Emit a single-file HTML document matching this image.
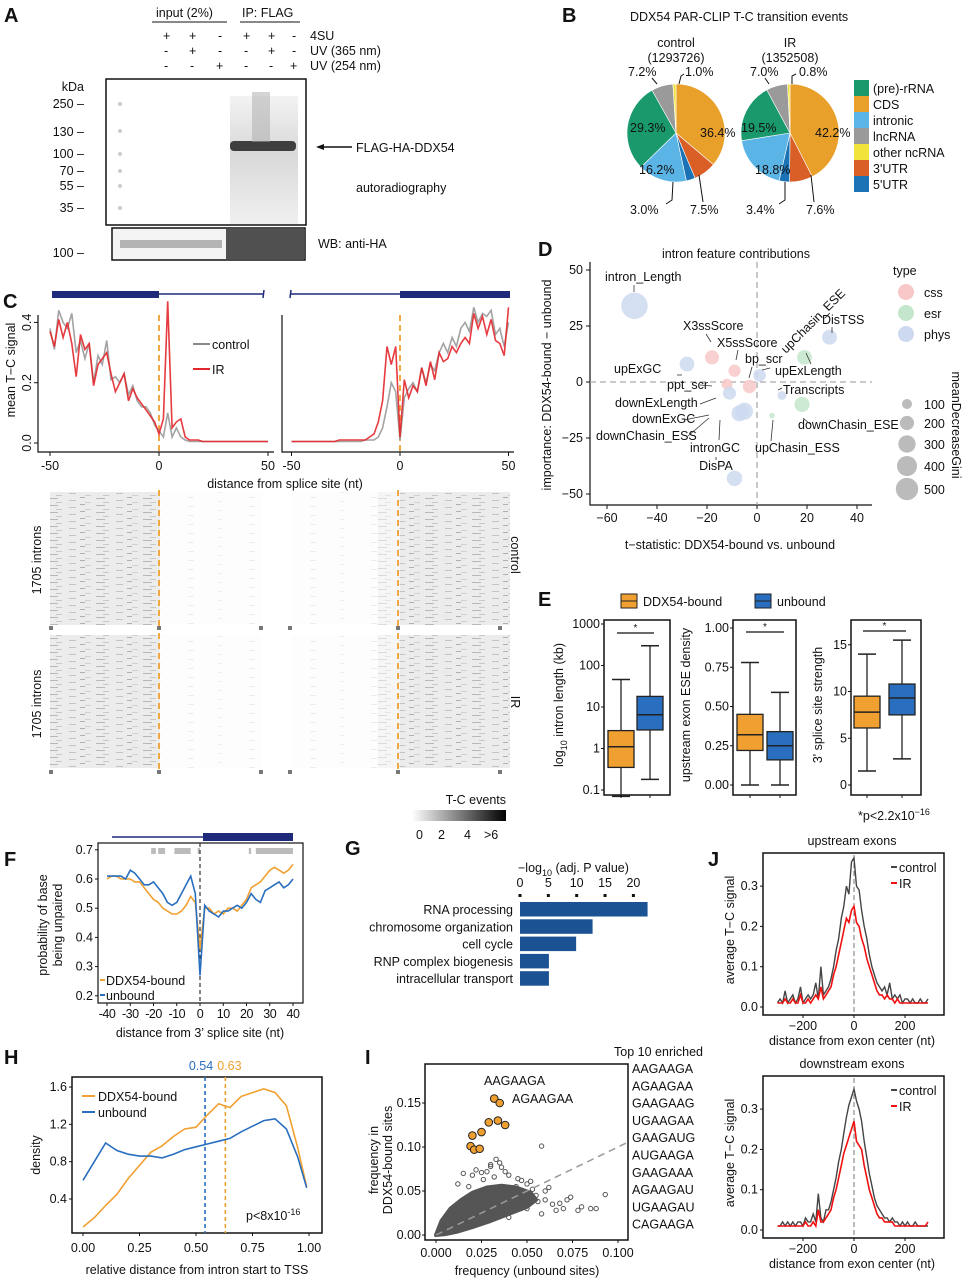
<!DOCTYPE html>
<html><head><meta charset="utf-8">
<style>
html,body{margin:0;padding:0;background:#fff;}
svg{display:block;font-family:"Liberation Sans",sans-serif;}
text{fill:#111;}
.pl{font-size:20px;font-weight:bold;}
.t{font-size:12.5px;}
.s{font-size:11.5px;}
</style></head>
<body>
<svg id="fig" width="969" height="1280" viewBox="0 0 969 1280" xmlns="http://www.w3.org/2000/svg">
<defs>
<linearGradient id="tcgrad" x1="0" x2="1" y1="0" y2="0"><stop offset="0" stop-color="#fff"/><stop offset="1" stop-color="#000"/></linearGradient>
<pattern id="streak" width="47" height="7" patternUnits="userSpaceOnUse">
<rect width="47" height="7" fill="#ececec"/><rect x="2" y="1" width="9" height="1" fill="#b8b8b8"/><rect x="22" y="3" width="7" height="1" fill="#c4c4c4"/><rect x="9" y="5" width="6" height="1" fill="#c8c8c8"/><rect x="33" y="0" width="5" height="1" fill="#b0b0b0"/><rect x="38" y="5" width="6" height="1" fill="#d0d0d0"/>
</pattern>
<pattern id="streakLight" width="61" height="9" patternUnits="userSpaceOnUse">
<rect width="61" height="9" fill="#fdfdfd"/><rect x="5" y="2" width="6" height="1" fill="#ececec"/><rect x="35" y="6" width="4" height="1" fill="#eeeeee"/>
</pattern>
<linearGradient id="laneGrad" x1="0" x2="0" y1="0" y2="1"><stop offset="0" stop-color="#f0f0f0"/><stop offset="0.45" stop-color="#cfcfcf"/><stop offset="1" stop-color="#ececec"/></linearGradient>
</defs>

<!-- Panel A -->
<g>
<text class="pl" x="4" y="22">A</text>
<text class="t" x="156" y="17">input (2%)</text>
<line x1="152" y1="22" x2="227" y2="22" stroke="#111"/>
<text class="t" x="242" y="17">IP: FLAG</text>
<line x1="240" y1="22" x2="300" y2="22" stroke="#111"/>
<g class="t">
<text x="163" y="40">+</text><text x="189" y="40">+</text><text x="218" y="40">-</text><text x="243" y="40">+</text><text x="268" y="40">+</text><text x="292" y="40">-</text><text x="310" y="40">4SU</text>
<text x="164" y="55">-</text><text x="189" y="55">+</text><text x="218" y="55">-</text><text x="244" y="55">-</text><text x="268" y="55">+</text><text x="292" y="55">-</text><text x="310" y="55">UV (365 nm)</text>
<text x="164" y="70">-</text><text x="190" y="70">-</text><text x="216" y="70">+</text><text x="244" y="70">-</text><text x="269" y="70">-</text><text x="290" y="70">+</text><text x="310" y="70">UV (254 nm)</text>
</g>
<rect x="106" y="79" width="200" height="146" fill="#fff" stroke="#111" stroke-width="1.5"/>
<rect x="230" y="96" width="68" height="128" fill="url(#laneGrad)" opacity="0.8"/>
<rect x="230" y="141" width="66" height="10" fill="#222" opacity="0.85" rx="4"/>
<rect x="252" y="92" width="18" height="50" fill="#aaa" opacity="0.5"/>
<g fill="#ccc"><circle cx="120" cy="104" r="2"/><circle cx="120" cy="131" r="2"/><circle cx="120" cy="154" r="2"/><circle cx="120" cy="171" r="2"/><circle cx="120" cy="186" r="2"/><circle cx="120" cy="208" r="2"/></g>
<g class="t" text-anchor="end">
<text x="84" y="91">kDa</text><text x="84" y="108">250 –</text><text x="84" y="136">130 –</text><text x="84" y="158">100 –</text><text x="84" y="175">70 –</text><text x="84" y="190">55 –</text><text x="84" y="212">35 –</text><text x="84" y="257">100 –</text>
</g>
<line x1="352" y1="147" x2="318" y2="147" stroke="#111" stroke-width="1.5"/>
<polygon points="316,147 324,144 324,150" fill="#111"/>
<text class="t" x="356" y="152">FLAG-HA-DDX54</text>
<text class="t" x="356" y="192">autoradiography</text>
<rect x="112" y="228" width="193" height="32" fill="#f4f4f4" stroke="#111" stroke-width="1.5"/>
<rect x="120" y="240" width="102" height="8" fill="#888" opacity="0.6"/>
<rect x="226" y="229" width="78" height="30" fill="#333" opacity="0.85"/>
<text class="t" x="318" y="248">WB: anti-HA</text>
</g>

<!-- Panel B -->
<g>
<text class="pl" x="562" y="22">B</text>
<text class="t" x="630" y="21">DDX54 PAR-CLIP T-C transition events</text>
<text class="t" x="676" y="47" text-anchor="middle">control</text>
<text class="t" x="676" y="62" text-anchor="middle">(1293726)</text>
<text class="t" x="790" y="47" text-anchor="middle">IR</text>
<text class="t" x="790" y="62" text-anchor="middle">(1352508)</text>
<g id="pies"></g>
<g class="t">
<text x="700" y="137">36.4%</text><text x="630" y="132">29.3%</text><text x="639" y="174">16.2%</text>
<text x="815" y="137">42.2%</text><text x="741" y="132">19.5%</text><text x="755" y="174">18.8%</text>
<text x="628" y="76">7.2%</text><text x="685" y="76">1.0%</text><text x="630" y="214">3.0%</text><text x="690" y="214">7.5%</text>
<text x="750" y="76">7.0%</text><text x="799" y="76">0.8%</text><text x="746" y="214">3.4%</text><text x="806" y="214">7.6%</text>
</g>
<g stroke="#111" fill="none">
<path d="M657,84 L652,78"/><path d="M679,84 L681,76 L684,74"/><path d="M673,182 L672,200 L666,204"/><path d="M699,175 L703,202"/>
<path d="M769,84 L765,78"/><path d="M792,84 L792,76 L796,74"/><path d="M785,182 L785,200 L779,204"/><path d="M811,175 L814,202"/>
</g>
<g id="pieLegend"></g>
</g>

<!-- Panel C -->
<g>
<text class="pl" x="3" y="308">C</text>
<rect x="52" y="291" width="107" height="7" fill="#1f2a7a"/>
<line x1="159" y1="294" x2="264" y2="294" stroke="#1f2a7a" stroke-width="1.5"/>
<line x1="264" y1="290" x2="263" y2="298" stroke="#1f2a7a" stroke-width="1.5"/>
<line x1="291" y1="294" x2="400" y2="294" stroke="#1f2a7a" stroke-width="1.5"/>
<line x1="291" y1="290" x2="290" y2="298" stroke="#1f2a7a" stroke-width="1.5"/>
<rect x="400" y="291" width="110" height="7" fill="#1f2a7a"/>
<text class="t" transform="translate(15,370) rotate(-90)" text-anchor="middle">mean T−C signal</text>
<text class="t" x="285" y="488" text-anchor="middle">distance from splice site (nt)</text>
<g id="cPlot"></g>
<line x1="193" y1="344" x2="210" y2="344" stroke="#888" stroke-width="2"/>
<text class="t" x="212" y="349">control</text>
<line x1="193" y1="369" x2="210" y2="369" stroke="#e3262b" stroke-width="2"/>
<text class="t" x="212" y="374">IR</text>
<g>
<rect x="50" y="492" width="110" height="133" fill="url(#streak)"/>
<rect x="160" y="492" width="102" height="133" fill="url(#streakLight)"/>
<rect x="292" y="492" width="90" height="133" fill="url(#streakLight)"/>
<rect x="378" y="492" width="22" height="133" fill="url(#streak)" opacity="0.5"/>
<rect x="400" y="492" width="110" height="133" fill="url(#streak)"/>
</g>
<g>
<rect x="50" y="635" width="110" height="133" fill="url(#streak)"/>
<rect x="160" y="635" width="102" height="133" fill="url(#streakLight)"/>
<rect x="292" y="635" width="90" height="133" fill="url(#streakLight)"/>
<rect x="378" y="635" width="22" height="133" fill="url(#streak)" opacity="0.5"/>
<rect x="400" y="635" width="110" height="133" fill="url(#streak)"/>
</g>
<g stroke="#f0a030" stroke-width="1.8" stroke-dasharray="6,4">
<line x1="159" y1="490" x2="159" y2="627"/><line x1="398" y1="490" x2="398" y2="627"/>
<line x1="159" y1="633" x2="159" y2="770"/><line x1="398" y1="633" x2="398" y2="770"/>
</g>
<g fill="#777">
<rect x="49" y="626" width="4" height="4"/><rect x="157" y="626" width="4" height="4"/><rect x="259" y="626" width="4" height="4"/><rect x="288" y="626" width="4" height="4"/><rect x="396" y="626" width="4" height="4"/><rect x="498" y="626" width="4" height="4"/>
<rect x="49" y="770" width="4" height="4"/><rect x="157" y="770" width="4" height="4"/><rect x="259" y="770" width="4" height="4"/><rect x="288" y="770" width="4" height="4"/><rect x="396" y="770" width="4" height="4"/><rect x="498" y="770" width="4" height="4"/>
</g>
<text class="t" transform="translate(41,560) rotate(-90)" text-anchor="middle">1705 introns</text>
<text class="t" transform="translate(41,704) rotate(-90)" text-anchor="middle">1705 introns</text>
<text class="t" transform="translate(511,555) rotate(90)" text-anchor="middle">control</text>
<text class="t" transform="translate(511,702) rotate(90)" text-anchor="middle">IR</text>
<text class="t" x="506" y="804" text-anchor="end">T-C events</text>
<rect x="412" y="810" width="94" height="11" fill="url(#tcgrad)"/>
<g class="t"><text x="416" y="839">0</text><text x="438" y="839">2</text><text x="464" y="839">4</text><text x="484" y="839">&gt;6</text></g>
</g>

<!-- Panel D -->
<g>
<text class="pl" x="538" y="256">D</text>
<text class="t" x="736" y="258" text-anchor="middle">intron feature contributions</text>
<text class="t" transform="translate(551,385) rotate(-90)" text-anchor="middle">importance: DDX54-bound − unbound</text>
<text class="t" x="730" y="549" text-anchor="middle">t−statistic: DDX54-bound vs. unbound</text>
<g id="dPlot"></g>
<g class="t">
<text x="605" y="281">intron_Length</text><text x="683" y="330">X3ssScore</text><text x="717" y="347">X5ssScore</text>
<text x="745" y="363">bp_scr</text><text x="775" y="375">upExLength</text><text x="614" y="373">upExGC</text>
<text x="667" y="389">ppt_scr</text><text x="783" y="394">Transcripts</text><text x="615" y="407">downExLength</text>
<text x="632" y="423">downExGC</text><text x="798" y="429">downChasin_ESE</text><text x="596" y="440">downChasin_ESS</text>
<text x="690" y="452">intronGC</text><text x="755" y="452">upChasin_ESS</text><text x="716" y="470" text-anchor="middle">DisPA</text>
<text x="822" y="324">DisTSS</text>
<text transform="translate(786,354) rotate(-45)">upChasin_ESE</text>
</g>
<g stroke="#333" stroke-width="0.8">
<line x1="634" y1="285" x2="634" y2="292"/><line x1="706" y1="334" x2="711" y2="342"/><line x1="738" y1="350" x2="736" y2="360"/>
<line x1="752" y1="367" x2="749" y2="378"/><line x1="677" y1="375" x2="682" y2="375"/><line x1="700" y1="385" x2="712" y2="386"/>
<line x1="762" y1="370" x2="770" y2="368"/><line x1="778" y1="390" x2="782" y2="388"/><line x1="700" y1="404" x2="716" y2="398"/>
<line x1="684" y1="420" x2="709" y2="415"/><line x1="688" y1="436" x2="709" y2="418"/><line x1="719" y1="440" x2="720" y2="420"/>
<line x1="771" y1="441" x2="773" y2="420"/><line x1="803" y1="418" x2="810" y2="424"/><line x1="832" y1="327" x2="832" y2="333"/>
<line x1="806" y1="353" x2="811" y2="364"/><line x1="716" y1="460" x2="716" y2="457"/>
</g>
<text class="t" x="893" y="275">type</text>
<g>
<circle cx="906" cy="292" r="8" fill="#f8c8c8"/><text class="t" x="924" y="297">css</text>
<circle cx="906" cy="313" r="8" fill="#c4e6cc"/><text class="t" x="924" y="318">esr</text>
<circle cx="906" cy="334" r="8" fill="#cdd9ee"/><text class="t" x="924" y="339">phys</text>
</g>
<g id="giniLegend"></g>
<text class="t" transform="translate(952,425) rotate(90)" text-anchor="middle">meanDecreaseGini</text>
</g>

<!-- Panel E -->
<g>
<text class="pl" x="538" y="606">E</text>
<rect x="621" y="594" width="16" height="14" fill="#f0a030" stroke="#222"/>
<line x1="621" y1="601" x2="637" y2="601" stroke="#222"/>
<text class="t" x="643" y="606">DDX54-bound</text>
<rect x="755" y="594" width="16" height="14" fill="#2a6fbf" stroke="#222"/>
<line x1="755" y1="601" x2="771" y2="601" stroke="#222"/>
<text class="t" x="777" y="606">unbound</text>
<g id="ePlot"></g>
<text class="t" transform="translate(563,705) rotate(-90)" text-anchor="middle">log<tspan font-size="9" dy="4">10</tspan><tspan dy="-4"> intron length (kb)</tspan></text>
<text class="t" transform="translate(690,705) rotate(-90)" text-anchor="middle">upstream exon ESE density</text>
<text class="t" transform="translate(822,705) rotate(-90)" text-anchor="middle">3' splice site strength</text>
<text class="t" x="858" y="820">*p&lt;2.2x10<tspan font-size="9" dy="-5">−16</tspan></text>
</g>

<!-- Panel F -->
<g>
<text class="pl" x="4" y="866">F</text>
<line x1="112" y1="837" x2="203" y2="837" stroke="#1f2a7a" stroke-width="1.5"/>
<rect x="203" y="833" width="90" height="8" fill="#1f2a7a"/>
<text class="t" transform="translate(47,925) rotate(-90)" text-anchor="middle">probability of base</text>
<text class="t" transform="translate(62,925) rotate(-90)" text-anchor="middle">being unpaired</text>
<text class="t" x="200" y="1037" text-anchor="middle">distance from 3’ splice site (nt)</text>
<g id="fPlot"></g>
<line x1="100" y1="980" x2="105" y2="980" stroke="#f0a030" stroke-width="2"/>
<text class="t" x="106" y="985">DDX54-bound</text>
<line x1="100" y1="995" x2="105" y2="995" stroke="#2a6fbf" stroke-width="2"/>
<text class="t" x="106" y="1000">unbound</text>
</g>

<!-- Panel G -->
<g>
<text class="pl" x="345" y="855">G</text>
<text class="t" x="518" y="872">−log<tspan font-size="9" dy="4">10</tspan><tspan dy="-4"> (adj. P value)</tspan></text>
<g id="gPlot"></g>
</g>

<!-- Panel H -->
<g>
<text class="pl" x="4" y="1064">H</text>
<text class="t" transform="translate(40,1155) rotate(-90)" text-anchor="middle">density</text>
<text class="t" x="197" y="1274" text-anchor="middle">relative distance from intron start to TSS</text>
<g id="hPlot"></g>
<line x1="82" y1="1096" x2="95" y2="1096" stroke="#f0a030" stroke-width="2"/>
<text class="t" x="98" y="1101">DDX54-bound</text>
<line x1="82" y1="1112" x2="95" y2="1112" stroke="#2a6fbf" stroke-width="2"/>
<text class="t" x="98" y="1117">unbound</text>
<text class="t" x="246" y="1220">p&lt;8x10<tspan font-size="9" dy="-5">-16</tspan></text>
</g>

<!-- Panel I -->
<g>
<text class="pl" x="365" y="1064">I</text>
<text class="t" transform="translate(378,1160) rotate(-90)" text-anchor="middle">frequency in</text>
<text class="t" transform="translate(392,1160) rotate(-90)" text-anchor="middle">DDX54-bound sites</text>
<text class="t" x="527" y="1275" text-anchor="middle">frequency (unbound sites)</text>
<g id="iPlot"></g>
<text class="t" x="484" y="1085">AAGAAGA</text>
<text class="t" x="512" y="1103">AGAAGAA</text>
<text class="t" x="703" y="1056" text-anchor="end">Top 10 enriched</text>
<g id="top10"></g>
</g>

<!-- Panel J -->
<g>
<text class="pl" x="708" y="866">J</text>
<text class="t" x="852" y="845" text-anchor="middle">upstream exons</text>
<text class="t" x="852" y="1068" text-anchor="middle">downstream exons</text>
<text class="t" transform="translate(734,930) rotate(-90)" text-anchor="middle">average T−C signal</text>
<text class="t" transform="translate(734,1153) rotate(-90)" text-anchor="middle">average T−C signal</text>
<text class="t" x="852" y="1045" text-anchor="middle">distance from exon center (nt)</text>
<text class="t" x="852" y="1268" text-anchor="middle">distance from exon center (nt)</text>
<g id="jPlot"></g>
</g>
</svg>

<script>
// ---------- DATA ----------
const pieCategories = ["CDS","3'UTR","5'UTR","intronic","(pre)-rRNA","lncRNA","other ncRNA"];
const pieControl = [36.4,7.5,3.0,16.2,29.3,7.2,1.0];
const pieIR = [42.2,7.6,3.4,18.8,19.5,7.0,0.8];
const legendOrder = ["(pre)-rRNA","CDS","intronic","lncRNA","other ncRNA","3'UTR","5'UTR"];

const cX = [-50,-48,-46,-44,-42,-40,-38,-36,-34,-32,-30,-28,-26,-24,-22,-20,-18,-16,-14,-12,-10,-8,-6,-4,-2,0,2,4,6,8,10,12,14,16,18,20,22,24,26,28,30,32,34,36,38,40,42,44,46,48,50];
const cLeftControl = [.38,.31,.44,.40,.38,.43,.30,.34,.28,.33,.20,.29,.26,.34,.21,.22,.20,.23,.16,.19,.14,.12,.12,.10,.06,.04,.02,.10,.02,.05,.02,.01,.005,.005,.005,.005,.005,.005,.005,.005,.005,.005,.005,.005,.005,.005,.005,.005,.005,.005,.005];
const cLeftIR = [.37,.32,.41,.35,.40,.33,.22,.36,.31,.33,.19,.26,.28,.30,.23,.17,.20,.23,.14,.18,.15,.13,.11,.09,.07,.03,.08,.47,.05,.07,.08,.02,.01,.01,.01,.005,.005,.005,.005,.005,.005,.005,.005,.005,.005,.005,.005,.005,.005,.005,.005];
const cRightControl = [.005,.005,.005,.005,.005,.005,.005,.005,.005,.005,.005,.005,.005,.005,.005,.005,.005,.01,.01,.01,.02,.05,.12,.20,.17,.01,.15,.18,.20,.17,.25,.20,.26,.24,.30,.33,.30,.35,.32,.38,.40,.37,.45,.40,.43,.42,.44,.36,.38,.32,.40];
const cRightIR = [.005,.005,.005,.005,.005,.005,.005,.005,.005,.005,.005,.01,.01,.01,.01,.01,.01,.01,.02,.03,.07,.14,.32,.26,.32,.02,.21,.15,.19,.17,.25,.19,.27,.21,.30,.27,.28,.32,.30,.33,.35,.33,.43,.38,.42,.36,.41,.34,.33,.29,.45];

const dNames = ["intron_Length","X3ssScore","X5ssScore","bp_scr","ppt_scr","upExGC","upExLength","downExLength","downExGC","downChasin_ESS","intronGC","DisTSS","upChasin_ESE","Transcripts","downChasin_ESE","upChasin_ESS","DisPA"];
const dT = [-49,-18,-9,-3,-12,-28,1,-11,-6,-7,-5,29,19,10,18,6,-9];
const dImp = [34,11,5,-2,-1,8,3,-5,-13,-14,-13,20,11,-6,-10,-15,-43];
const dType = ["phys","css","css","css","css","phys","phys","phys","phys","phys","phys","phys","esr","phys","esr","esr","phys"];
const dGini = [700,200,150,180,120,220,160,170,180,260,290,220,220,80,230,30,240];
const dXTicks = [-60,-40,-20,0,20,40];
const dYTicks = [50,25,0,-25,-50];
const giniTicks = [100,200,300,400,500];

const eGroups = ["DDX54-bound","unbound"];
const eLenStats = [[0.07,0.35,1.1,2.7,46],[0.18,2.8,6.5,18,300]];
const eEseStats = [[0,0.22,0.32,0.45,0.78],[0,0.16,0.25,0.34,0.59]];
const eSsStats = [[1.5,6.1,7.8,9.5,14],[2.8,7.5,9.3,10.8,15.5]];
const eLenTicks = ["1000","100","10","1","0.1"];
const eEseTicks = ["1.00","0.75","0.50","0.25","0.00"];
const eSsTicks = ["15","10","5","0"];

const fX = [-40,-38,-36,-34,-32,-30,-28,-26,-24,-22,-20,-18,-16,-14,-12,-10,-8,-6,-4,-2,0,2,4,6,8,10,12,14,16,18,20,22,24,26,28,30,32,34,36,38,40];
const fBound = [.60,.61,.61,.60,.60,.60,.59,.59,.57,.55,.53,.52,.50,.49,.48,.48,.49,.51,.54,.52,.36,.50,.50,.48,.49,.48,.50,.50,.49,.51,.53,.57,.58,.59,.61,.63,.64,.63,.62,.63,.65];
const fUnbound = [.61,.61,.61,.61,.60,.63,.62,.60,.58,.58,.59,.57,.55,.52,.51,.52,.55,.58,.61,.55,.27,.51,.49,.48,.47,.49,.49,.50,.51,.50,.52,.55,.53,.52,.56,.57,.58,.59,.57,.58,.60];
const fSigBars = [[-21,-19],[-18,-15],[-11,-4],[-1,0],[21,22],[24,40]];
const fYTicks = [0.7,0.6,0.5,0.4,0.3,0.2];
const fXTicks = [-40,-30,-20,-10,0,10,20,30,40];

const gTerms = ["RNA processing","chromosome organization","cell cycle","RNP complex biogenesis","intracellular transport"];
const gValues = [22.5,12.8,9.9,5.1,5.1];
const gTicks = [0,5,10,15,20];

const hX = [0,.05,.1,.15,.2,.25,.3,.35,.4,.45,.5,.55,.6,.65,.7,.75,.8,.85,.9,.95,.99];
const hBound = [.10,.20,.33,.45,.62,.76,.90,.97,1.07,1.15,1.17,1.30,1.42,1.38,1.50,1.54,1.58,1.54,1.40,.95,.53];
const hUnbound = [.60,.80,1.00,.92,.88,.86,.86,.84,.88,.93,.96,.99,1.02,1.05,1.12,1.18,1.24,1.26,1.15,.85,.52];
const hMedians = [0.54,0.63];
const hYTicks = [1.6,1.2,0.8,0.4];
const hXTicks = [0,0.25,0.5,0.75,1.0];

const iTop10 = ["AAGAAGA","AGAAGAA","GAAGAAG","UGAAGAA","GAAGAUG","AUGAAGA","GAAGAAA","AGAAGAU","UGAAGAU","CAGAAGA"];
const iTopX = [0.032,0.035,0.029,0.034,0.038,0.025,0.020,0.019,0.021,0.024];
const iTopY = [0.155,0.150,0.128,0.130,0.125,0.117,0.113,0.101,0.097,0.098];
const iDenseX = [0,0.003,0.008,0.014,0.020,0.028,0.036,0.044,0.052,0.055,0.050,0.040,0.030,0.020,0.012,0.005];
const iDenseY = [0,0.016,0.030,0.040,0.048,0.054,0.056,0.054,0.048,0.040,0.032,0.024,0.016,0.009,0.004,0.001];
const iOutX = [0.058,0.035,0.033,0.030,0.036,0.028,0.045,0.050,0.052,0.040,0.060,0.062,0.072,0.074,0.080,0.085,0.088,0.093,0.078,0.070,0.066,0.064,0.056,0.015,0.020,0.025,0.048,0.044,0.055,0.042,0.032,0.026,0.012,0.018,0.060,0.068,0.050,0.040,0.058,0.022,0.030,0.038,0.047,0.053];
const iOutY = [0.101,0.082,0.086,0.078,0.077,0.072,0.064,0.058,0.061,0.068,0.050,0.054,0.040,0.043,0.032,0.030,0.030,0.046,0.028,0.030,0.028,0.035,0.038,0.070,0.068,0.071,0.045,0.055,0.045,0.040,0.066,0.063,0.058,0.055,0.040,0.036,0.030,0.020,0.024,0.074,0.080,0.072,0.062,0.052];
const iXTicks = ["0.000","0.025","0.050","0.075","0.100"];
const iYTicks = ["0.00","0.05","0.10","0.15"];

const jX = [-300,-290,-280,-270,-260,-250,-240,-230,-220,-210,-200,-190,-180,-170,-160,-150,-140,-130,-120,-110,-100,-90,-80,-70,-60,-50,-40,-30,-20,-10,0,10,20,30,40,50,60,70,80,90,100,110,120,130,140,150,160,170,180,190,200,210,220,230,240,250,260,270,280,290];
const jUpControl = [.01,.02,.01,.04,.01,.02,.03,.01,.02,.05,.01,.02,.03,.02,.03,.06,.02,.10,.03,.04,.05,.07,.10,.14,.17,.22,.25,.30,.28,.36,.37,.30,.29,.24,.20,.17,.13,.10,.08,.06,.05,.04,.05,.03,.06,.02,.03,.02,.03,.01,.02,.02,.01,.02,.01,.01,.02,.01,.01,.02];
const jUpIR = [.01,.01,.01,.02,.01,.01,.02,.01,.01,.03,.01,.01,.02,.01,.02,.03,.02,.05,.02,.03,.04,.05,.08,.10,.13,.16,.19,.22,.21,.24,.25,.21,.20,.17,.15,.12,.10,.08,.06,.04,.03,.03,.02,.03,.02,.02,.01,.02,.01,.01,.01,.01,.01,.01,.01,.01,.01,.01,.01,.01];
const jDownControl = [.01,.01,.02,.01,.02,.01,.02,.01,.02,.02,.01,.03,.02,.02,.04,.02,.09,.03,.02,.05,.05,.07,.10,.13,.17,.20,.24,.28,.31,.33,.35,.32,.30,.27,.22,.18,.14,.11,.08,.06,.05,.04,.03,.03,.02,.03,.02,.02,.01,.02,.01,.02,.01,.01,.02,.01,.01,.01,.01,.01];
const jDownIR = [.01,.01,.01,.01,.01,.01,.01,.01,.01,.01,.01,.02,.01,.01,.02,.01,.05,.02,.02,.03,.04,.05,.08,.10,.13,.16,.19,.21,.23,.25,.27,.22,.21,.20,.16,.13,.10,.08,.06,.04,.03,.03,.02,.02,.02,.02,.01,.01,.01,.01,.01,.01,.01,.01,.01,.01,.01,.01,.01,.02];
const jYTicks = [0,0.1,0.2,0.3];
const jXTicks = [-200,0,200];

// ---------- HELPERS ----------
const NS = "http://www.w3.org/2000/svg";
function mk(tag, attrs, parent){ const e=document.createElementNS(NS,tag); for(const k in attrs) e.setAttribute(k,attrs[k]); parent.appendChild(e); return e; }
function txt(str, attrs, parent){ const e=mk("text",attrs,parent); e.textContent=str; return e; }
function pathFrom(xs, ys, sx, sy){ return xs.map((x,i)=>(i?"L":"M")+sx(x).toFixed(1)+","+sy(ys[i]).toFixed(1)).join(""); }
const pieColors = {"CDS":"#e8a02a","3'UTR":"#d95f26","5'UTR":"#1b72b5","intronic":"#5ab4e5","(pre)-rRNA":"#1a9a6c","lncRNA":"#9a9a9a","other ncRNA":"#f2e33a"};

// ---------- B ----------
const pies = document.getElementById("pies");
function drawPie(vals, cx, cy, r, tag){
  const tot = vals.reduce((a,b)=>a+b,0);
  let a0 = 0;
  vals.forEach((v,i)=>{
    const a1 = a0 + v/tot*2*Math.PI;
    const x0=cx+r*Math.sin(a0), y0=cy-r*Math.cos(a0), x1=cx+r*Math.sin(a1), y1=cy-r*Math.cos(a1);
    const p = mk("path",{d:`M${cx},${cy}L${x0},${y0}A${r},${r} 0 ${a1-a0>Math.PI?1:0} 1 ${x1},${y1}Z`, fill:pieColors[pieCategories[i]], stroke:"#fff","stroke-width":0.6}, pies);
    
    
    a0 = a1;
  });
}
drawPie(pieControl, 676, 133, 49, "control");
drawPie(pieIR, 790, 133, 49, "ir");
const pl = document.getElementById("pieLegend");
legendOrder.forEach((c,i)=>{
  const r = mk("rect",{x:854,y:80+i*16,width:15,height:16,fill:pieColors[c]},pl);
  
  
  const t = txt(c,{x:873,y:93+i*16,"class":"t"},pl);
  
  
});

// ---------- C ----------
const cP = document.getElementById("cPlot");
const cY = v => 443 - v*301.5;
const cXL = v => 159 + v*2.18;
const cXR = v => 400 + v*2.17;
[[38,274,cXL],[282,514,cXR]].forEach(([a,b,sx],k)=>{
  const ax = mk("path",{d:`M${a},315V452H${b}`,fill:"none",stroke:"#111","stroke-width":1.2},cP);
  
  
  [-50,0,50].forEach(v=>{
    mk("line",{x1:sx(v),y1:452,x2:sx(v),y2:456,stroke:"#111"},cP);
    const t = txt(String(v),{x:sx(v),y:470,"text-anchor":"middle","class":"t"},cP);
    
    
  });
  const dl = mk("line",{x1:sx(0),y1:315,x2:sx(0),y2:452,stroke:"#f0a030","stroke-width":1.8,"stroke-dasharray":"6,4"},cP);
  
  
});
const cYTicks = [0,0.2,0.4];
cYTicks.forEach(v=>{
  mk("line",{x1:34,y1:cY(v),x2:38,y2:cY(v),stroke:"#111"},cP);
  const t = txt(v.toFixed(1),{transform:`translate(31,${cY(v)}) rotate(-90)`,"text-anchor":"middle","class":"t"},cP);
  
  
});
[[cLeftControl,cXL,"#999","c-left-control-line"],[cLeftIR,cXL,"#e3262b","c-left-ir-line"],[cRightControl,cXR,"#999","c-right-control-line"],[cRightIR,cXR,"#e3262b","c-right-ir-line"]].forEach(([ys,sx,col,nm])=>{
  const p = mk("path",{d:pathFrom(cX,ys,sx,cY),fill:"none",stroke:col,"stroke-width":1.6,opacity:0.9},cP);
  
  
});

// ---------- D ----------
const dP = document.getElementById("dPlot");
const dx = v => 757 + v*2.5;
const dy = v => 382 - v*2.24;
const dCol = {css:"#f8c8c8",esr:"#c4e6cc",phys:"#cdd9ee"};
const dAx = mk("path",{d:"M590,262V505H872",fill:"none",stroke:"#111","stroke-width":1.2},dP);


dXTicks.forEach(v=>{
  mk("line",{x1:dx(v),y1:505,x2:dx(v),y2:509,stroke:"#111"},dP);
  const t = txt(v<0?"−"+(-v):String(v),{x:dx(v),y:522,"text-anchor":"middle","class":"t"},dP);
  
  
});
dYTicks.forEach(v=>{
  mk("line",{x1:586,y1:dy(v),x2:590,y2:dy(v),stroke:"#111"},dP);
  const t = txt(v<0?"−"+(-v):String(v),{x:583,y:dy(v)+4,"text-anchor":"end","class":"t"},dP);
  
  
});
const dv = mk("line",{x1:dx(0),y1:262,x2:dx(0),y2:505,stroke:"#aaa","stroke-dasharray":"6,4","stroke-width":1.3},dP);


const dh = mk("line",{x1:590,y1:dy(0),x2:872,y2:dy(0),stroke:"#aaa","stroke-dasharray":"6,4","stroke-width":1.3},dP);


dNames.forEach((n,i)=>{
  const c = mk("circle",{cx:dx(dT[i]),cy:dy(dImp[i]),r:0.5*Math.sqrt(dGini[i]),fill:dCol[dType[i]],opacity:0.85},dP);
  
  
});
const gl = document.getElementById("giniLegend");
giniTicks.forEach((g,i)=>{
  const cy = [404,423,444,466,489][i];
  const c = mk("circle",{cx:907,cy:cy,r:0.5*Math.sqrt(g),fill:"#bbb"},gl);
  
  
  const t = txt(String(g),{x:924,y:cy+5,"class":"t"},gl);
  
  
});

// ---------- E ----------
const eP = document.getElementById("ePlot");
const eCols = ["#f0a030","#2a6fbf"];
function boxPanel(x0,x1,stats,sy,ticks,tickVals,centers,nm,sigY){
  const fr = mk("rect",{x:x0,y:620,width:x1-x0,height:175,fill:"none",stroke:"#111","stroke-width":1.5},eP);
  
  
  ticks.forEach((lab,i)=>{
    const y = sy(tickVals[i]);
    mk("line",{x1:x0-3,y1:y,x2:x0,y2:y,stroke:"#111"},eP);
    const t = txt(lab,{x:x0-4,y:y+4,"text-anchor":"end","class":"t"},eP);
    
    
  });
  stats.forEach((s,k)=>{
    const cx = centers[k], w=13;
    const g = mk("g",{},eP);
    
    
    mk("line",{x1:cx,y1:sy(s[0]),x2:cx,y2:sy(s[4]),stroke:"#222","stroke-width":1.3},g);
    mk("line",{x1:cx-9,y1:sy(s[0]),x2:cx+9,y2:sy(s[0]),stroke:"#222","stroke-width":1.5},g);
    mk("line",{x1:cx-9,y1:sy(s[4]),x2:cx+9,y2:sy(s[4]),stroke:"#222","stroke-width":1.5},g);
    mk("rect",{x:cx-w,y:sy(s[3]),width:2*w,height:sy(s[1])-sy(s[3]),fill:eCols[k],stroke:"#222","stroke-width":1.3},g);
    mk("line",{x1:cx-w,y1:sy(s[2]),x2:cx+w,y2:sy(s[2]),stroke:"#222","stroke-width":1.5},g);
    mk("line",{x1:cx,y1:795,x2:cx,y2:798,stroke:"#111"},g);
  });
  const sb = mk("line",{x1:centers[0]-4,y1:sigY,x2:centers[1]+4,y2:sigY,stroke:"#111","stroke-width":1.2},eP);
  
  
  const st = txt("*",{x:(centers[0]+centers[1])/2,y:sigY-2,"text-anchor":"middle","font-size":"10"},eP);
  
  
}
const eLenY = v => 790 - (Math.log10(v)+1)*41.5;
boxPanel(604,670,eLenStats,eLenY,eLenTicks,[1000,100,10,1,0.1],[621,650],"e-length",633);
const eEseY = v => 785 - v*157;
boxPanel(733,796,eEseStats,eEseY,eEseTicks,[1,0.75,0.5,0.25,0],[750,780],"e-ese",632);
const eSsY = v => 785 - v*9.35;
boxPanel(851,921,eSsStats,eSsY,eSsTicks,[15,10,5,0],[867,902],"e-ss",631);

// ---------- F ----------
const fP = document.getElementById("fPlot");
const fx = v => 200 + v*2.325;
const fy = v => 879 - (v-0.6)*292;
const fr = mk("rect",{x:98,y:843,width:205,height:160,fill:"none",stroke:"#111","stroke-width":1.2},fP);


fYTicks.forEach(v=>{
  mk("line",{x1:95,y1:fy(v),x2:98,y2:fy(v),stroke:"#111"},fP);
  const t = txt(v.toFixed(1),{x:93,y:fy(v)+4,"text-anchor":"end","class":"t"},fP);
  
  
});
fXTicks.forEach(v=>{
  mk("line",{x1:fx(v),y1:1003,x2:fx(v),y2:1006,stroke:"#111"},fP);
  const t = txt(String(v),{x:fx(v),y:1018,"text-anchor":"middle","class":"t","letter-spacing":"-0.5"},fP);
  
  
});
fSigBars.forEach(b=>{
  const r = mk("rect",{x:fx(b[0]),y:848,width:fx(b[1])-fx(b[0]),height:6,fill:"#bbb"},fP);
  
  
});
const fd = mk("line",{x1:fx(0),y1:843,x2:fx(0),y2:1003,stroke:"#333","stroke-dasharray":"4,3","stroke-width":1.2},fP);


const fb = mk("path",{d:pathFrom(fX,fBound,fx,fy),fill:"none",stroke:"#f0a030","stroke-width":1.6},fP);


const fu = mk("path",{d:pathFrom(fX,fUnbound,fx,fy),fill:"none",stroke:"#2a6fbf","stroke-width":1.6},fP);



// ---------- G ----------
const gP = document.getElementById("gPlot");
const gx = v => 520 + v*5.67;
gTicks.forEach(v=>{
  const t = txt(String(v),{x:gx(v),y:887,"text-anchor":"middle","class":"t"},gP);
  
  
  mk("rect",{x:gx(v)-1.5,y:894,width:3,height:3,fill:"#111"},gP);
});
gTerms.forEach((term,i)=>{
  const y = 902 + i*17.3;
  const b = mk("rect",{x:gx(0),y:y,width:gx(gValues[i])-gx(0),height:14.5,fill:"#1a5294"},gP);
  
  
  const t = txt(term,{x:513,y:y+12,"text-anchor":"end","class":"t"},gP);
  
  
});

// ---------- H ----------
const hP = document.getElementById("hPlot");
const hx = v => 83 + v*226;
const hy = v => 1199 - (v-0.4)*93.3;
const hr = mk("rect",{x:72,y:1077,width:250,height:156,fill:"none",stroke:"#111","stroke-width":1.5},hP);


hYTicks.forEach(v=>{
  mk("line",{x1:69,y1:hy(v),x2:72,y2:hy(v),stroke:"#111"},hP);
  const t = txt(v.toFixed(1),{x:67,y:hy(v)+4,"text-anchor":"end","class":"t"},hP);
  
  
});
hXTicks.forEach(v=>{
  mk("line",{x1:hx(v),y1:1233,x2:hx(v),y2:1236,stroke:"#111"},hP);
  const t = txt(v.toFixed(2),{x:hx(v),y:1252,"text-anchor":"middle","class":"t"},hP);
  
  
});
hMedians.forEach((m,k)=>{
  const col = k? "#f0a030":"#2a6fbf";
  const l = mk("line",{x1:hx(m),y1:1077,x2:hx(m),y2:1233,stroke:col,"stroke-dasharray":"4,3","stroke-width":1.6},hP);
  
  
  const t = txt(m.toFixed(2),{x:hx(m)+(k?4:-4),y:1070,"text-anchor":"middle","class":"t",style:"fill:"+col},hP);
  
  
});
const hb = mk("path",{d:pathFrom(hX,hBound,hx,hy),fill:"none",stroke:"#f0a030","stroke-width":1.6},hP);


const hu = mk("path",{d:pathFrom(hX,hUnbound,hx,hy),fill:"none",stroke:"#2a6fbf","stroke-width":1.6},hP);



// ---------- I ----------
const iP = document.getElementById("iPlot");
const ix = v => 436 + v*1820;
const iy = v => 1235 - v*880;
const ir = mk("rect",{x:425,y:1064,width:203,height:176,fill:"none",stroke:"#111","stroke-width":1.5},iP);


iXTicks.forEach(s=>{
  const v = parseFloat(s);
  mk("line",{x1:ix(v),y1:1240,x2:ix(v),y2:1243,stroke:"#111"},iP);
  const t = txt(s,{x:ix(v),y:1257,"text-anchor":"middle","class":"t"},iP);
  
  
});
iYTicks.forEach(s=>{
  const v = parseFloat(s);
  mk("line",{x1:422,y1:iy(v),x2:425,y2:iy(v),stroke:"#111"},iP);
  const t = txt(s,{x:421,y:iy(v)+4,"text-anchor":"end","class":"t"},iP);
  
  
});
const dense = mk("polygon",{points:iDenseX.map((x,i)=>ix(x)+","+iy(iDenseY[i])).join(" "),fill:"#555",stroke:"#555","stroke-width":4,"stroke-linejoin":"round"},iP);


iOutX.forEach((x,i)=>{
  const c = mk("circle",{cx:ix(x),cy:iy(iOutY[i]),r:2.2,fill:"none",stroke:"#555","stroke-width":1},iP);
  
  
});
const diag = mk("line",{x1:ix(0),y1:iy(0),x2:628,y2:iy((628-436)/1820),stroke:"#999","stroke-dasharray":"7,5","stroke-width":1.5},iP);


iTopX.forEach((x,i)=>{
  const c = mk("circle",{cx:ix(x),cy:iy(iTopY[i]),r:3.8,fill:"#f0a030",stroke:"#222","stroke-width":1},iP);
  
  
});
const t10 = document.getElementById("top10");
iTop10.forEach((m,i)=>{
  const t = txt(m,{x:632,y:1073+i*17.3,"class":"t"},t10);
  
  
});

// ---------- J ----------
const jP = document.getElementById("jPlot");
const jx = v => 854 + v*0.255;
function jPanel(off, ctrl, irv, nm){
  const jy = v => 1007 + off - v*403;
  const fr = mk("rect",{x:763,y:853+off,width:181,height:162,fill:"none",stroke:"#111","stroke-width":1.5},jP);
  
  
  jYTicks.forEach(v=>{
    mk("line",{x1:760,y1:jy(v),x2:763,y2:jy(v),stroke:"#111"},jP);
    const t = txt(v.toFixed(1),{x:758,y:jy(v)+4,"text-anchor":"end","class":"t"},jP);
    
    
  });
  jXTicks.forEach(v=>{
    mk("line",{x1:jx(v),y1:1015+off,x2:jx(v),y2:1018+off,stroke:"#111"},jP);
    const t = txt(v<0?"−"+(-v):String(v),{x:jx(v),y:1030+off,"text-anchor":"middle","class":"t"},jP);
    
    
  });
  const dl = mk("line",{x1:jx(0),y1:855+off,x2:jx(0),y2:1015+off,stroke:"#777","stroke-dasharray":"5,3"},jP);
  
  
  const c = mk("path",{d:pathFrom(jX,ctrl,jx,jy),fill:"none",stroke:"#444","stroke-width":1.4},jP);
  
  
  const r = mk("path",{d:pathFrom(jX,irv,jx,jy),fill:"none",stroke:"#f01010","stroke-width":1.6},jP);
  
  
  mk("line",{x1:891,y1:867+off,x2:897,y2:867+off,stroke:"#444","stroke-width":2},jP);
  const lt = txt("control",{x:899,y:872+off,"class":"t"},jP);
  
  
  mk("line",{x1:891,y1:883+off,x2:897,y2:883+off,stroke:"#f01010","stroke-width":2},jP);
  const lr = txt("IR",{x:899,y:888+off,"class":"t"},jP);
  
  
}
jPanel(0, jUpControl, jUpIR, "j-up");
jPanel(223, jDownControl, jDownIR, "j-down");
</script>
</body></html>
